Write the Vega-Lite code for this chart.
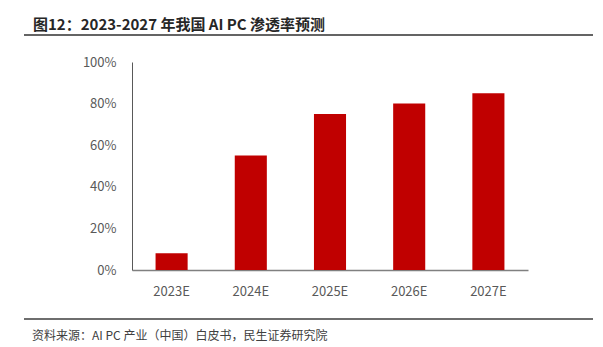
{
  "$schema": "https://vega.github.io/schema/vega-lite/v6.json",
  "padding": {"left": 23, "right": 11, "top": 18, "bottom": 2},
  "background": "white",
  "title": {"text": "图12：2023-2027 年我国 AI PC 渗透率预测", "anchor": "start", "fontSize": 15, "fontWeight": "bold", "font": "Noto Sans CJK SC", "color": "#262626", "dx": 10, "offset": 1},
  "spacing": 20,
  "datasets": {
    "rates": [
      {"year": "2023E", "rate": 0.08},
      {"year": "2024E", "rate": 0.55},
      {"year": "2025E", "rate": 0.75},
      {"year": "2026E", "rate": 0.80},
      {"year": "2027E", "rate": 0.85}
    ],
    "divider": [{"line": 0}]
  },
  "vconcat": [
    {
      "width": 569, "height": 1,
      "data": {"name": "divider"},
      "mark": {"type": "rule", "color": "#646464", "strokeWidth": 2},
      "encoding": {"y": {"field": "line", "type": "quantitative", "scale": {"domain": [0, 1]}, "axis": null}},
      "view": {"stroke": null}
    },
    {
      "width": 569, "height": 208,
      "data": {"name": "rates"},
      "mark": {"type": "bar", "color": "#C00000"},
      "encoding": {
        "x": {"field": "year", "type": "nominal", "sort": null,
          "scale": {"paddingInner": 0.595, "paddingOuter": 0.2975, "range": [108, 504]},
          "axis": {"labelAngle": 0, "ticks": false, "domainColor": "#808080", "domainWidth": 1.5, "labelPadding": 15, "labelFontSize": 13, "labelColor": "#595959", "labelFont": "Noto Sans CJK SC", "title": null}},
        "y": {"field": "rate", "type": "quantitative",
          "scale": {"domain": [0, 1]},
          "axis": {"values": [0, 0.2, 0.4, 0.6, 0.8, 1], "format": ".0%", "offset": -108, "domainColor": "#595959", "ticks": false, "grid": false, "labelFontSize": 13, "labelColor": "#595959", "labelFont": "Noto Sans CJK SC", "labelPadding": 16, "title": null}}
      },
      "view": {"stroke": null}
    },
    {
      "width": 569, "height": 1,
      "data": {"name": "divider"},
      "mark": {"type": "rule", "color": "#6e6e6e", "strokeWidth": 2},
      "encoding": {"y": {"field": "line", "type": "quantitative", "scale": {"domain": [0, 1]}, "axis": null}},
      "view": {"stroke": null},
      "title": {"text": "资料来源：AI PC 产业（中国）白皮书，民生证券研究院", "orient": "bottom", "anchor": "start", "fontSize": 12, "fontWeight": "normal", "font": "Noto Sans CJK SC", "color": "#404040", "dx": 9, "offset": 11}
    }
  ]
}
